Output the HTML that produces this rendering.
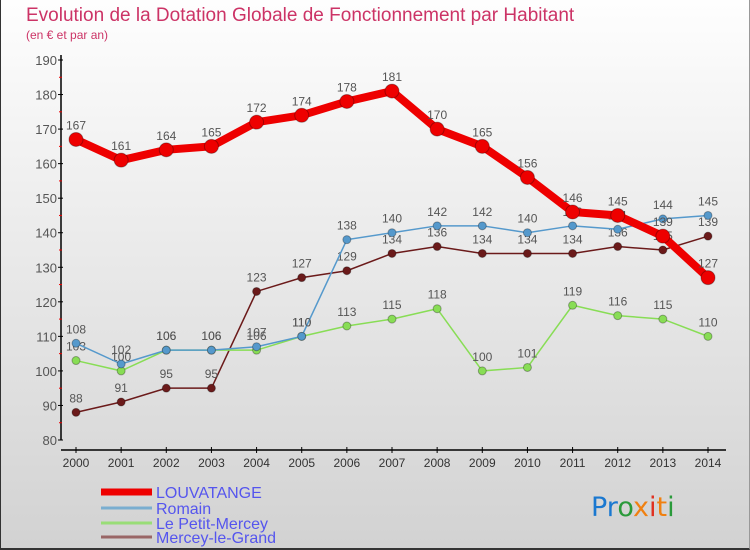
<!DOCTYPE html>
<html><head><meta charset="utf-8"><style>
body{margin:0}
#c{width:750px;height:550px;position:relative;background:linear-gradient(#fefefe,#d2d2d2);font-family:"Liberation Sans",sans-serif;overflow:hidden;box-sizing:border-box;border-left:1px solid #333;border-bottom:2px solid #333;border-right:1px solid #999}
</style></head><body>
<div id="c">
<svg width="750" height="550" id="svg" style="position:absolute;left:0;top:0">
<text x="25" y="21" font-size="19" fill="#cc3366">Evolution de la Dotation Globale de Fonctionnement par Habitant</text>
<text x="25" y="39" font-size="12" fill="#cc3366">(en € et par an)</text>
<g id="g"></g>
<text x="590" y="516" font-size="27" font-family="DejaVu Sans"><tspan fill="#1a78d0">Pr</tspan><tspan fill="#2a9a3a">o</tspan><tspan fill="#f08010">x</tspan><tspan fill="#e03020">i</tspan><tspan fill="#f08010">t</tspan><tspan fill="#2a9a3a">i</tspan></text>
</svg>
</div>
<script>
const years=[2000,2001,2002,2003,2004,2005,2006,2007,2008,2009,2010,2011,2012,2013,2014];
const louvatange=[167,161,164,165,172,174,178,181,170,165,156,146,145,139,127];
const romain=[108,102,106,106,107,110,138,140,142,142,140,142,141,144,145];
const petitMercey=[103,100,106,106,106,110,113,115,118,100,101,119,116,115,110];
const merceyGrand=[88,91,95,95,123,127,129,134,136,134,134,134,136,135,139];
const yTicks=[80,90,100,110,120,130,140,150,160,170,180,190];
const NS='http://www.w3.org/2000/svg';
const g=document.getElementById('g');
const X=i=>75+i*(707-75)/14;
const Y=v=>440-(v-80)*380/110;
function mk(t,a){const e=document.createElementNS(NS,t);for(const k in a)e.setAttribute(k,a[k]);g.appendChild(e);return e;}
let e=mk('line',{x1:60,y1:55,x2:60,y2:440,stroke:'#000','stroke-width':1.5});


e=mk('line',{x1:60,y1:450,x2:725,y2:450,stroke:'#000','stroke-width':1.5});


yTicks.forEach(v=>{mk('line',{x1:57,x2:62,y1:Y(v),y2:Y(v),stroke:'#000'});
 if(v<190)mk('line',{x1:58,x2:61,y1:Y(v+5),y2:Y(v+5),stroke:'#e00'});
 const t=mk('text',{x:56,y:Y(v)+5,'font-size':13,fill:'#555','text-anchor':'end'});t.textContent=v;
 
 });
years.forEach((y,i)=>{mk('line',{x1:X(i),x2:X(i),y1:447,y2:453,stroke:'#000'});
 const t=mk('text',{x:X(i),y:467,'font-size':12,fill:'#333','text-anchor':'middle'});t.textContent=y;
 
 });
const series=[[merceyGrand,'#6b1a1a',1.5,4,'mercey-le-grand'],[petitMercey,'#88dd55',1.5,4,'le-petit-mercey'],[romain,'#5599cc',1.5,4,'romain'],[louvatange,'#ee0000',8,7,'louvatange']];
series.forEach(([d,c,w,r,n])=>{
 const p=mk('polyline',{points:d.map((v,i)=>X(i)+','+Y(v)).join(' '),fill:'none',stroke:c,'stroke-width':w});
 
 
 d.forEach((v,i)=>{const q=mk('circle',{cx:X(i),cy:Y(v),r:r,fill:c,stroke:'rgba(0,0,0,0.3)'});
  
  
  const t=mk('text',{x:X(i),y:Y(v)-10,'font-size':12,fill:'#555','text-anchor':'middle'});t.textContent=v;
  
  });
});
const leg=[['LOUVATANGE','#ee0000',7,492],['Romain','#7aaed0',3,508],['Le Petit-Mercey','#99dd77',3,523],['Mercey-le-Grand','#996666',3,537]];
leg.forEach(([n,c,w,y])=>{mk('line',{x1:100,x2:151,y1:y,y2:y,stroke:c,'stroke-width':w});
 const t=mk('text',{x:155,y:y+6,'font-size':16,fill:'#5555ee'});t.textContent=n;
 
 });
</script>
</body></html>
